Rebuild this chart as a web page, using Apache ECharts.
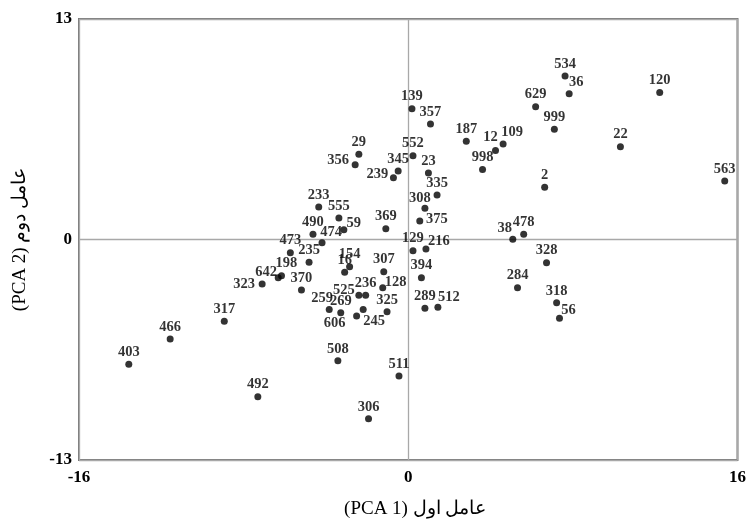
<!DOCTYPE html>
<html>
<head>
<meta charset="utf-8">
<script src="https://cdn.jsdelivr.net/npm/echarts@6/dist/echarts.min.js"></script>
<style>html,body{margin:0;padding:0;background:#fff}#chart{width:749px;height:524px}</style>
</head>
<body>
<div id="chart"></div>
<script>
// ---- data ----
const names = ['534','36','120','629','999','139','357','187','12','109','22','552','345','239','23','998','2','563','335','308','375','369','38','478','129','216','328','394','284','318','56','289','512','307','128','325','511','306','29','356','233','555','59','490','474','473','235','154','16','198','642','323','370','525','236','259','269','606','245','508','492','403','466','317'];
const pc1 = [7.62,7.82,12.22,6.19,7.10,0.18,1.08,2.82,4.24,4.61,10.31,0.23,-0.49,-0.72,0.98,3.61,6.63,15.38,1.40,0.81,0.56,-1.09,5.08,5.61,0.23,0.86,6.72,0.64,5.31,7.21,7.35,0.81,1.44,-1.19,-1.24,-1.03,-0.45,-1.93,-2.40,-2.58,-4.35,-3.37,-3.13,-4.63,-4.19,-5.73,-4.82,-2.85,-3.09,-6.16,-6.32,-7.10,-5.19,-2.40,-2.07,-3.84,-3.28,-2.51,-2.19,-3.42,-7.31,-13.58,-11.57,-8.94];
const pc2 = [9.64,8.60,8.66,7.83,6.50,7.71,6.81,5.79,5.24,5.63,5.47,4.94,4.04,3.64,3.92,4.12,3.08,3.45,2.62,1.84,1.09,0.64,0.01,0.31,-0.66,-0.56,-1.37,-2.25,-2.84,-3.73,-4.65,-4.06,-4.00,-1.90,-2.84,-4.26,-8.05,-10.57,5.02,4.41,1.92,1.27,0.58,0.31,-0.19,-0.78,-1.34,-1.60,-1.93,-2.13,-2.25,-2.62,-2.98,-3.29,-3.29,-4.12,-4.32,-4.51,-4.12,-7.15,-9.27,-7.36,-5.87,-4.82];
const xTicks = [-16, 0, 16];
const yTicks = [-13, 0, 13];
const xTitle = '(PCA 1) عامل اول';
const yTitle = '(PCA 2) عامل دوم';

// ---- label placement (style only): label centre relative to dot centre, px ----
const SYM = 7;
const defaultLabelCentre = [0, -12];
const labelCentre = {
  '36':[7,-11],'12':[-5,-13],'109':[9,-12],'239':[-16,-4],'308':[-5,-10],'375':[17,-2],
  '38':[-8,-11],'216':[13,-8],'56':[9,-8],'512':[11,-10],'128':[13,-5],'356':[-17,-4],
  '59':[10,-6],'474':[9,-10],'198':[5,-12],'642':[-12,-5],'323':[-18,0],'525':[-15,-5],
  '259':[-7,-11],'606':[-22,7],'245':[11,12]
};

const data = names.map((n, i) => {
  const c = labelCentre[n] || defaultLabelCentre;
  return { name: n, value: [pc1[i], pc2[i]],
    label: { position: [SYM / 2 + c[0], SYM / 2 + c[1]] } };
});

const serif = '"Liberation Serif", "Times New Roman", serif';
const chart = echarts.init(document.getElementById('chart'));
chart.setOption({
  animation: false,
  backgroundColor: '#ffffff',
  grid: { left: 79, right: 9, top: 19, bottom: 64, show: true, borderColor: '#7a7a7a', borderWidth: 2, backgroundColor: 'transparent' },
  xAxis: {
    type: 'value', min: xTicks[0], max: xTicks[2], interval: 16,
    axisLine: { show: false }, axisTick: { show: false },
    splitLine: { show: true, lineStyle: { color: '#a8a8a8', width: 1.3 } },
    axisLabel: { color: '#000', fontFamily: serif, fontWeight: 'bold', fontSize: 17, margin: 9,
      formatter: v => xTicks.includes(v) ? String(v) : '' },
    name: xTitle, nameLocation: 'middle', nameGap: 40,
    nameTextStyle: { color: '#000', fontFamily: serif, fontSize: 19, padding: [0, 0, 0, 14] }
  },
  yAxis: {
    type: 'value', min: yTicks[0], max: yTicks[2], interval: 13,
    axisLine: { show: false }, axisTick: { show: false },
    splitLine: { show: true, lineStyle: { color: '#a8a8a8', width: 1.3 } },
    axisLabel: { color: '#000', fontFamily: serif, fontWeight: 'bold', fontSize: 17, margin: 7,
      formatter: v => yTicks.includes(v) ? String(v) : '' },
    name: yTitle, nameLocation: 'middle', nameGap: 49, nameRotate: 90,
    nameTextStyle: { color: '#000', fontFamily: serif, fontSize: 19 }
  },
  series: [{
    type: 'scatter',
    symbol: 'circle', symbolSize: SYM,
    itemStyle: { color: '#000' },
    label: { show: true, formatter: '{b}', align: 'center', verticalAlign: 'middle',
      color: '#000', fontFamily: serif, fontWeight: 'bold', fontSize: 14.5 },
    labelLayout: { hideOverlap: false },
    data: data
  }]
});
</script>
</body>
</html>
